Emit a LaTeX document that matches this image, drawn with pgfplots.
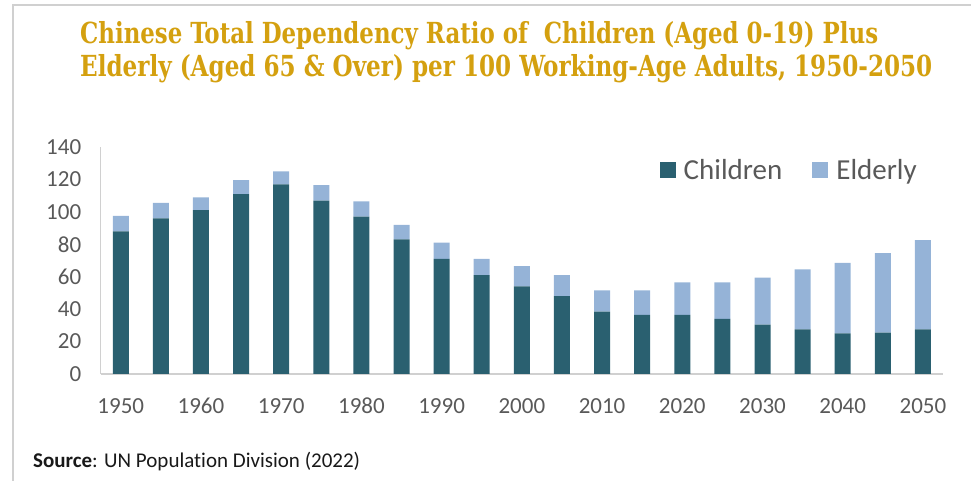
\documentclass[border=0pt]{standalone}
\usepackage{fontspec}
\usepackage{pgfplots}
\usepackage{pgfplotstable}
\usepackage{graphicx}
\pgfplotsset{compat=1.18}
\setmainfont{Carlito}[Ligatures=NoCommon]
\newfontfamily\titlefont{DejaVu Serif Condensed}
\definecolor{childc}{HTML}{2A6070}
\definecolor{elderc}{HTML}{95B3D7}
\definecolor{titlec}{HTML}{D4A00F}
\definecolor{labc}{HTML}{595959}
\definecolor{framec}{HTML}{D0D0D0}
\pgfplotstableread{
year child elder
1950 88 9.5
1955 96 9.5
1960 101 8
1965 111 8.5
1970 117 8
1975 107 9.5
1980 97 9.5
1985 83 9
1990 71 10
1995 61 10
2000 54 12.5
2005 48 13
2010 38.5 13
2015 36.5 15
2020 36.5 20
2025 34 22.5
2030 30.5 29
2035 27.5 37
2040 25 43.5
2045 25.5 49
2050 27.5 55
}\datatable
\begin{document}
\begin{tikzpicture}
\useasboundingbox (0,0) rectangle (971pt,481pt);
\draw[framec, line width=2pt] (13pt,0pt) -- (13pt,476pt) -- (971pt,476pt);
\node[anchor=base west, inner sep=0pt, text=titlec] at (80pt,437.5pt)
  {\resizebox{798pt}{\height}{\titlefont\bfseries\fontsize{29}{29}\selectfont Chinese Total Dependency Ratio of\ \ Children (Aged 0-19) Plus}};
\node[anchor=base west, inner sep=0pt, text=titlec] at (80pt,404.3pt)
  {\resizebox{852pt}{\height}{\titlefont\bfseries\fontsize{29}{29}\selectfont Elderly (Aged 65 \& Over) per 100 Working-Age Adults, 1950-2050}};
\node[anchor=base west, inner sep=0pt, text=black!90] at (33pt,13pt)
  {\fontsize{21}{21}\selectfont\textbf{Source}: UN Population Division (2022)};
\begin{axis}[
  at={(100.7pt,107pt)}, anchor=south west,
  scale only axis, width=842.3pt, height=227pt,
  ybar stacked, bar width=16pt,
  xmin=1947.5, xmax=2052.5, ymin=0, ymax=140,
  ytick={0,20,...,140}, xtick={1950,1960,...,2050},
  /pgf/number format/assume math mode=true,
  x tick label style={/pgf/number format/1000 sep={}, anchor=north, text height=16pt, text depth=0pt, yshift=-20pt},
  y tick label style={xshift=-16pt},
  tick label style={font=\fontsize{23}{23}\selectfont, text=labc},
  axis lines*=left,
  axis line style={draw=framec, line width=1.2pt},
  major tick style={draw=none},
  legend style={draw=none, fill=none, at={(0.975,0.9)}, anchor=east,
    legend columns=2, font=\fontsize{29}{29}\selectfont, text=labc,
    /tikz/every even column/.append style={column sep=28pt}},
  legend image code/.code={\fill[#1] (0pt,-8pt) rectangle (16pt,8pt); \path (22pt,0pt);},
]
\addplot[fill=childc, draw=none] table[x=year, y=child] {\datatable};
\addplot[fill=elderc, draw=none] table[x=year, y=elder] {\datatable};
\legend{Children, Elderly}
\end{axis}
\end{tikzpicture}
\end{document}
